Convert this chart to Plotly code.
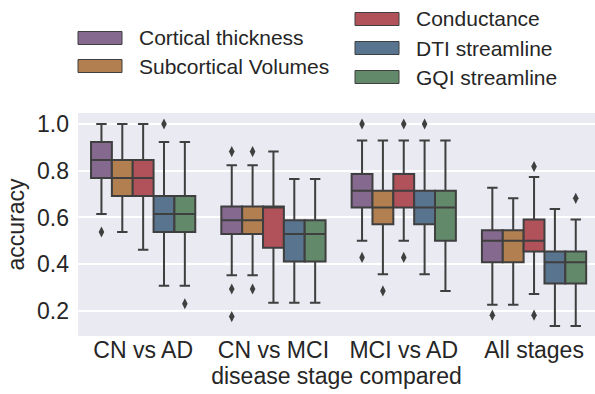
import plotly.graph_objects as go

groups = ["CN vs AD", "CN vs MCI", "MCI vs AD", "All stages"]
methods = ["Cortical thickness", "Subcortical Volumes", "Conductance", "DTI streamline", "GQI streamline"]
colors = ["#85698e", "#b27f51", "#b1525b", "#59748f", "#63896b"]

# per method, per group: lower whisker, q1, median, q3, upper whisker
ct_low = [0.615, 0.353, 0.500, 0.227]
ct_q1 = [0.769, 0.529, 0.643, 0.409]
ct_med = [0.846, 0.588, 0.714, 0.500]
ct_q3 = [0.923, 0.647, 0.786, 0.545]
ct_high = [1.000, 0.824, 0.929, 0.727]
ct_out = [[0.538], [0.882, 0.294, 0.176], [1.0, 0.429], [0.182]]

sv_low = [0.538, 0.353, 0.357, 0.227]
sv_q1 = [0.692, 0.529, 0.571, 0.409]
sv_med = [0.769, 0.588, 0.643, 0.500]
sv_q3 = [0.846, 0.647, 0.714, 0.545]
sv_high = [1.000, 0.824, 0.929, 0.682]
sv_out = [[], [0.882, 0.294], [0.286], []]

co_low = [0.462, 0.235, 0.500, 0.273]
co_q1 = [0.692, 0.471, 0.643, 0.455]
co_med = [0.769, 0.647, 0.714, 0.500]
co_q3 = [0.846, 0.647, 0.786, 0.591]
co_high = [1.000, 0.882, 0.929, 0.773]
co_out = [[], [], [1.0, 0.429], [0.818, 0.182]]

dti_low = [0.308, 0.235, 0.357, 0.136]
dti_q1 = [0.538, 0.412, 0.571, 0.318]
dti_med = [0.615, 0.529, 0.643, 0.409]
dti_q3 = [0.692, 0.588, 0.714, 0.455]
dti_high = [0.923, 0.765, 0.929, 0.636]
dti_out = [[1.0], [], [1.0], []]

gqi_low = [0.308, 0.235, 0.286, 0.136]
gqi_q1 = [0.538, 0.412, 0.500, 0.318]
gqi_med = [0.615, 0.529, 0.643, 0.409]
gqi_q3 = [0.692, 0.588, 0.714, 0.455]
gqi_high = [0.923, 0.765, 0.929, 0.591]
gqi_out = [[0.231], [], [], [0.682]]

stats = [
    (ct_low, ct_q1, ct_med, ct_q3, ct_high, ct_out),
    (sv_low, sv_q1, sv_med, sv_q3, sv_high, sv_out),
    (co_low, co_q1, co_med, co_q3, co_high, co_out),
    (dti_low, dti_q1, dti_med, dti_q3, dti_high, dti_out),
    (gqi_low, gqi_q1, gqi_med, gqi_q3, gqi_high, gqi_out),
]

FONT = "Liberation Sans, Arial, sans-serif"
EDGE = "#3f3f3f"
n_m = len(methods)
bw = 0.8 / n_m

fig = go.Figure()
for j, (name, col, st) in enumerate(zip(methods, colors, stats)):
    low, q1, med, q3, high, outs = st
    off = (j - (n_m - 1) / 2) * bw
    xs = [i + off for i in range(len(groups))]
    fig.add_trace(go.Box(
        x=xs, q1=q1, median=med, q3=q3, lowerfence=low, upperfence=high,
        width=bw, whiskerwidth=0.5, fillcolor=col,
        line=dict(color=EDGE, width=2), boxpoints=False,
        name=name, showlegend=False, hoverinfo="skip"))
    ox, oy = [], []
    for i, vals in enumerate(outs):
        for v in vals:
            ox.append(i + off)
            oy.append(v)
    fig.add_trace(go.Scatter(
        x=ox, y=oy, mode="markers", showlegend=False,
        marker=dict(symbol="diamond-tall", size=8, color=EDGE)))

# layout geometry in pixels
W, H = 595, 394
L, R, T, B = 78, 0, 113, 58
pw, ph = W - L - R, H - T - B

def px(xp):
    return (xp - L) / pw

def py(yp):
    return (H - B - yp) / ph

# custom legend (two columns)
legend_items = [
    (methods[0], colors[0], 78, 38),
    (methods[1], colors[1], 78, 66),
    (methods[2], colors[2], 355, 19),
    (methods[3], colors[3], 355, 48),
    (methods[4], colors[4], 355, 77),
]
shapes = []
annotations = []
for name, col, x0, yc in legend_items:
    shapes.append(dict(type="rect", xref="paper", yref="paper",
                       x0=px(x0), x1=px(x0 + 44), y0=py(yc - 6.5), y1=py(yc + 6.5),
                       fillcolor=col, line=dict(color=EDGE, width=1)))
    annotations.append(dict(text=name, xref="paper", yref="paper",
                            x=px(x0 + 59), y=py(yc), xanchor="left", yanchor="middle",
                            showarrow=False, font=dict(family=FONT, size=21, color="#262626")))

fig.update_layout(
    width=W, height=H,
    margin=dict(l=L, r=R, t=T, b=B, pad=0),
    paper_bgcolor="white", plot_bgcolor="#EAEAF2",
    font=dict(family=FONT, size=23, color="#262626"),
    shapes=shapes, annotations=annotations,
    showlegend=False,
)
fig.update_xaxes(
    range=[-0.5, -0.5 + pw / 130.3], tickmode="array",
    tickvals=list(range(len(groups))), ticktext=groups,
    showgrid=False, zeroline=False, ticks="",
    tickfont=dict(size=23), ticklabelstandoff=-2,
    title=dict(text="disease stage compared", font=dict(size=23), standoff=0),
)
fig.update_yaxes(
    range=[0.093, 1.047], tickvals=[0.2, 0.4, 0.6, 0.8, 1.0],
    ticktext=["0.2", "0.4", "0.6", "0.8", "1.0"],
    showgrid=True, gridcolor="white", gridwidth=1.5, zeroline=False, ticks="",
    tickfont=dict(size=23), ticklabelstandoff=8,
    title=dict(text="accuracy", font=dict(size=23), standoff=5),
)

fig.write_html("out.html")
